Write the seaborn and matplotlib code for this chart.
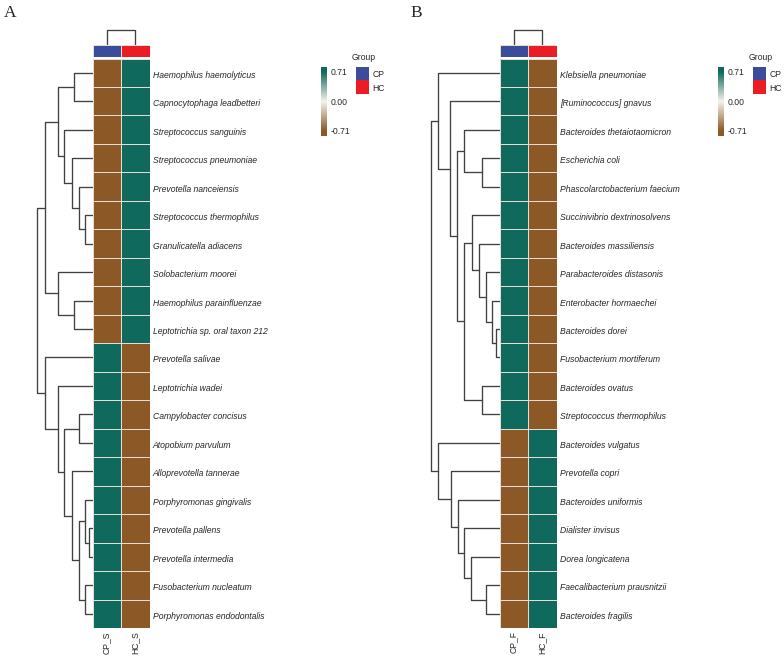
import numpy as np
import pandas as pd
import seaborn as sns
import matplotlib.pyplot as plt
import matplotlib.transforms as mtransforms
from matplotlib.colors import LinearSegmentedColormap, ListedColormap

sns.set_theme(style='white')
plt.rcParams['font.family'] = ['Liberation Sans', 'DejaVu Sans']

# panel A - saliva samples
species_a = ['Haemophilus haemolyticus', 'Capnocytophaga leadbetteri', 'Streptococcus sanguinis',
             'Streptococcus pneumoniae', 'Prevotella nanceiensis', 'Streptococcus thermophilus',
             'Granulicatella adiacens', 'Solobacterium moorei', 'Haemophilus parainfluenzae',
             'Leptotrichia sp. oral taxon 212', 'Prevotella salivae', 'Leptotrichia wadei',
             'Campylobacter concisus', 'Atopobium parvulum', 'Alloprevotella tannerae',
             'Porphyromonas gingivalis', 'Prevotella pallens', 'Prevotella intermedia',
             'Fusobacterium nucleatum', 'Porphyromonas endodontalis']
cp_s = [-0.71, -0.71, -0.71, -0.71, -0.71, -0.71, -0.71, -0.71, -0.71, -0.71,
        0.71, 0.71, 0.71, 0.71, 0.71, 0.71, 0.71, 0.71, 0.71, 0.71]
hc_s = [0.71, 0.71, 0.71, 0.71, 0.71, 0.71, 0.71, 0.71, 0.71, 0.71,
        -0.71, -0.71, -0.71, -0.71, -0.71, -0.71, -0.71, -0.71, -0.71, -0.71]
# row tree: [merge height, left, right], leaves are row numbers
tree_a = [55.7,
          [47.7, [34.7, [18.7, 0, 1], [28.7, 2, [20.7, 3, [13.7, 4, [7.7, 5, 6]]]]],
                 [34.7, 7, [18.7, 8, 9]]],
          [47.7, 10, [34.7, 11, [28.7, [13.7, 12, 13],
                                 [20.7, 14, [13.7, [7.7, 15, [3.7, 16, 17]], [7.7, 18, 19]]]]]]]

# panel B - fecal samples
species_b = ['Klebsiella pneumoniae', '[Ruminococcus] gnavus', 'Bacteroides thetaiotaomicron',
             'Escherichia coli', 'Phascolarctobacterium faecium', 'Succinivibrio dextrinosolvens',
             'Bacteroides massiliensis', 'Parabacteroides distasonis', 'Enterobacter hormaechei',
             'Bacteroides dorei', 'Fusobacterium mortiferum', 'Bacteroides ovatus',
             'Streptococcus thermophilus', 'Bacteroides vulgatus', 'Prevotella copri',
             'Bacteroides uniformis', 'Dialister invisus', 'Dorea longicatena',
             'Faecalibacterium prausnitzii', 'Bacteroides fragilis']
cp_f = [0.71, 0.71, 0.71, 0.71, 0.71, 0.71, 0.71, 0.71, 0.71, 0.71, 0.71, 0.71, 0.71,
        -0.71, -0.71, -0.71, -0.71, -0.71, -0.71, -0.71]
hc_f = [-0.71, -0.71, -0.71, -0.71, -0.71, -0.71, -0.71, -0.71, -0.71, -0.71, -0.71, -0.71, -0.71,
        0.71, 0.71, 0.71, 0.71, 0.71, 0.71, 0.71]
tree_b = [68.6,
          [61.3, 0, [49.3, 1, [42.3, [35.3, 2, [17.6, 3, 4]],
                                [35.3, [27.6, 5, [21.0, 6, [13.6, 7, [7.3, 8, [3.3, 9, 10]]]]],
                                       [17.6, 11, 12]]]]],
          [61.3, 13, [48.8, 14, [42.0, 15, [35.3, 16, [28.3, 17, [14.0, 18, 19]]]]]]]

groups = ['CP', 'HC']
col_tree = [1.0, 0, 1]

brown, white, teal = '#8C5826', '#F4F2EA', '#0F6A5D'
blue, red = '#3B4C9A', '#EC1C24'
line_col = '#404040'
grid_col = '#E4DED6'
vlim = 0.83
edge = 0.5 - 0.71 / vlim / 2
cmap = LinearSegmentedColormap.from_list(
    'brbg', [(0, brown), (edge, brown), (0.5, white), (1 - edge, teal), (1, teal)])
gcmap = ListedColormap([blue, red])
fs = 6.2

W, H = 784, 659
fig = plt.figure(figsize=(W / 100, H / 100), dpi=100)
# nudge row labels down a little, like the original
nudge = mtransforms.ScaledTranslation(0, -1.5 / 100, fig.dpi_scale_trans)


def box(x0, y0, x1, y1):
    return fig.add_axes([x0 / W, 1 - y1 / H, (x1 - x0) / W, (y1 - y0) / H])


def draw_tree(ax, node, side='left'):
    if isinstance(node, int):
        return node + 0.5, 0.0
    h, left, right = node
    yl, hl = draw_tree(ax, left, side)
    yr, hr = draw_tree(ax, right, side)
    if side == 'left':
        ax.plot([hl, h, h, hr], [yl, yl, yr, yr], color=line_col, lw=0.95, clip_on=False)
    else:
        ax.plot([yl, yl, yr, yr], [hl, h, h, hr], color=line_col, lw=0.95, clip_on=False)
    return (yl + yr) / 2, h


def panel(letter, hx0, species, cp, hc, cols, tree, cbx):
    hx1 = hx0 + 57
    top, bottom = 58.5, 628

    # row dendrogram
    dax = box(hx0 - tree[0], top, hx0, bottom)
    draw_tree(dax, tree)
    dax.set_xlim(tree[0], 0)
    dax.set_ylim(len(species), 0)
    dax.axis('off')

    # column dendrogram + group bar
    cdax = box(hx0, 30, hx1, 44.5)
    draw_tree(cdax, col_tree, side='top')
    cdax.set_xlim(0, 2)
    cdax.set_ylim(0, col_tree[0])
    cdax.axis('off')

    gax = box(hx0, 44.5, hx1, 56.5)
    sns.heatmap(pd.DataFrame([[0, 1]]), ax=gax, cmap=gcmap, cbar=False,
                xticklabels=False, yticklabels=False, linewidths=0.5, linecolor=grid_col)

    # heatmap
    df = pd.DataFrame({cols[0]: cp, cols[1]: hc}, index=species)
    ax = box(hx0, top, hx1, bottom)
    cax = box(cbx, 66.7, cbx + 5.7, 136)
    sns.heatmap(df, ax=ax, cmap=cmap, vmin=-vlim, vmax=vlim, linewidths=0.7,
                linecolor=grid_col, cbar_ax=cax, cbar_kws={'ticks': [-0.71, 0, 0.71]},
                yticklabels=species, xticklabels=cols)
    ax.yaxis.tick_right()
    ax.set_yticklabels(species, rotation=0, fontsize=fs, style='italic')
    ax.set_xticklabels(cols, rotation=90, fontsize=fs)
    ax.tick_params(length=0, pad=2.3)
    ax.set_ylabel('')
    for t in ax.get_yticklabels():
        t.set_transform(t.get_transform() + nudge)

    cb = ax.collections[0].colorbar
    cb.set_ticklabels(['-0.71', '0.00', '0.71'])
    cb.outline.set_visible(False)
    cax.tick_params(length=0, labelsize=fs, pad=3)

    # group legend
    lax = box(cbx + 35, 66.7, cbx + 48, 94)
    sns.heatmap(pd.DataFrame([[0], [1]], index=groups), ax=lax, cmap=gcmap, cbar=False,
                xticklabels=False, yticklabels=groups, linewidths=0)
    lax.yaxis.tick_right()
    lax.set_yticklabels(groups, rotation=0, fontsize=fs)
    lax.tick_params(length=0, pad=2.5)
    fig.text((cbx + 31) / W, 1 - 57.5 / H, 'Group', fontsize=fs, va='center', ha='left')

    fig.text((hx0 - 89) / W, 1 - 13 / H, letter, fontsize=12.5, va='center', ha='left',
             fontfamily='Liberation Serif')


panel('A', 92.5, species_a, cp_s, hc_s, ['CP_S', 'HC_S'], tree_a, 321)
panel('B', 499.5, species_b, cp_f, hc_f, ['CP_F', 'HC_F'], tree_b, 718)

fig.savefig('out.png', dpi=100)
